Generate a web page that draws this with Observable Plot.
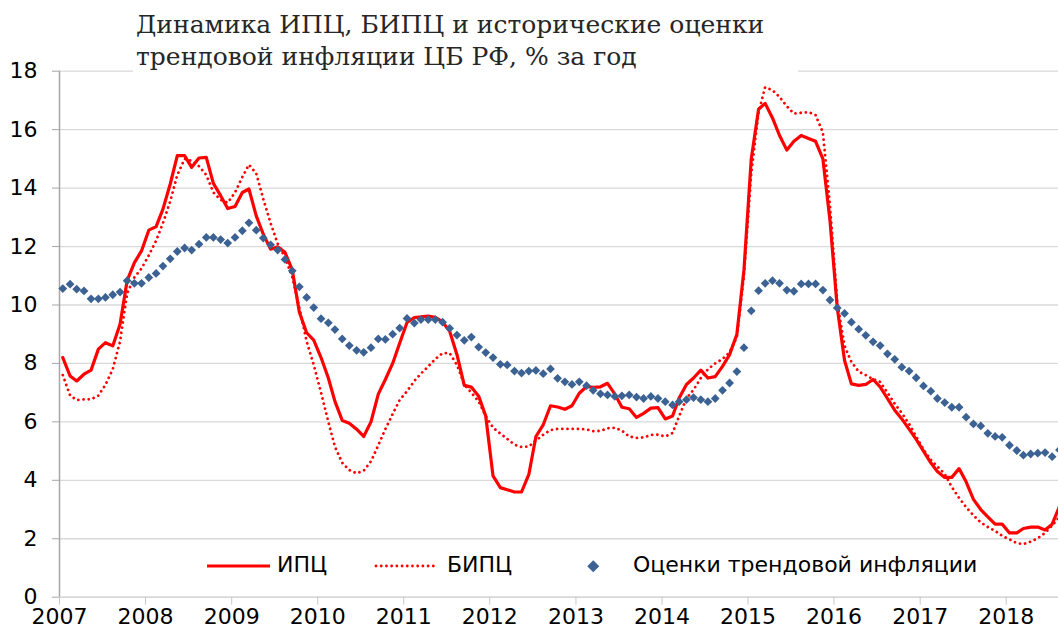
<!DOCTYPE html>
<html><head><meta charset="utf-8">
<script src="https://cdn.jsdelivr.net/npm/d3@7"></script>
<script src="https://cdn.jsdelivr.net/npm/@observablehq/plot@0.6"></script>
<style>
body{margin:0;background:#fff;}
#wrap{position:relative;width:1058px;height:634px;overflow:hidden;background:#fff;}
#title{position:absolute;left:133px;top:9px;width:662px;height:67px;background:#fff;font-family:"DejaVu Serif";font-size:25px;line-height:32px;color:#262626;padding-left:3px;white-space:nowrap;}
.lg{position:absolute;font-family:"DejaVu Sans";font-size:22px;color:#000;line-height:26px;white-space:nowrap;}
</style></head>
<body><div id="wrap"></div>
<script>
const titleLines = ["Динамика ИПЦ, БИПЦ и исторические оценки", "трендовой инфляции ЦБ РФ, % за год"];
const seriesNames = ["ИПЦ", "БИПЦ", "Оценки трендовой инфляции"];
const startYear = 2007;
const yearTicks = [2007,2008,2009,2010,2011,2012,2013,2014,2015,2016,2017,2018];
const yTicks = [0,2,4,6,8,10,12,14,16,18];

const cpi = [
 8.2,7.57,7.4,7.63,7.77,8.49,8.71,8.6,9.34,10.83,11.45,11.85,
 12.56,12.68,13.28,14.14,15.11,15.11,14.71,15.03,15.05,14.16,13.74,13.3,
 13.37,13.85,13.97,13.05,12.42,11.91,11.99,11.8,11.2,9.75,9.05,8.8,
 8.2,7.5,6.7,6.05,5.95,5.75,5.5,6.0,6.95,7.45,8.0,8.7,
 9.4,9.57,9.59,9.62,9.58,9.42,9.1,8.3,7.25,7.19,6.88,6.2,
 4.15,3.75,3.68,3.6,3.6,4.2,5.5,5.9,6.55,6.51,6.43,6.55,
 6.98,7.21,7.18,7.2,7.32,6.95,6.5,6.45,6.15,6.29,6.47,6.49,
 6.1,6.2,6.82,7.28,7.5,7.77,7.5,7.55,7.9,8.3,9.0,11.2,
 15.0,16.7,16.9,16.4,15.8,15.3,15.6,15.8,15.7,15.6,15.0,12.9,
 9.9,8.1,7.3,7.25,7.28,7.45,7.2,6.8,6.4,6.1,5.75,5.4,
 5.0,4.6,4.3,4.1,4.1,4.4,3.95,3.35,3.0,2.75,2.5,2.5,
 2.2,2.2,2.35,2.4,2.4,2.3,2.5,3.1
];
const bipc = [
 7.6,6.9,6.75,6.77,6.77,6.9,7.27,7.8,8.75,10.4,10.95,11.25,
 11.7,12.2,12.8,13.55,14.45,15.0,14.93,14.75,14.45,13.85,13.6,13.5,
 13.85,14.38,14.8,14.5,13.62,12.8,12.1,11.63,10.95,9.9,8.75,7.95,
 7.0,6.0,5.15,4.6,4.35,4.24,4.33,4.65,5.2,5.75,6.27,6.75,
 7.05,7.4,7.65,7.9,8.15,8.35,8.35,7.95,7.28,7.0,6.7,6.2,
 5.8,5.6,5.42,5.22,5.14,5.16,5.36,5.56,5.72,5.76,5.76,5.76,
 5.76,5.74,5.68,5.69,5.78,5.8,5.7,5.5,5.45,5.47,5.55,5.56,
 5.5,5.62,6.2,6.8,7.1,7.5,7.8,8.0,8.15,8.38,8.9,11.0,
 14.5,16.6,17.45,17.35,17.12,16.8,16.55,16.58,16.6,16.5,15.9,13.4,
 10.1,8.6,8.05,7.72,7.6,7.46,7.37,7.0,6.62,6.3,5.93,5.5,
 5.05,4.7,4.47,4.22,3.77,3.4,3.08,2.8,2.56,2.4,2.27,2.1,
 1.98,1.85,1.82,1.9,2.02,2.2,2.45,2.75
];
const trend = [
 10.56,10.71,10.54,10.48,10.21,10.21,10.26,10.35,10.44,10.83,10.74,10.74,
 10.94,11.08,11.33,11.58,11.83,11.95,11.88,12.08,12.31,12.31,12.24,12.12,
 12.31,12.54,12.81,12.56,12.29,12.06,11.88,11.56,11.17,10.62,10.26,9.91,
 9.53,9.39,9.16,8.84,8.61,8.45,8.38,8.54,8.84,8.82,9.0,9.21,
 9.54,9.38,9.5,9.5,9.5,9.41,9.2,8.97,8.79,8.9,8.56,8.37,
 8.2,7.97,7.95,7.74,7.67,7.74,7.76,7.65,7.81,7.49,7.37,7.28,
 7.37,7.24,7.08,6.96,6.92,6.87,6.89,6.92,6.85,6.8,6.87,6.8,
 6.69,6.58,6.69,6.76,6.83,6.76,6.69,6.8,7.08,7.33,7.72,8.54,
 9.8,10.49,10.74,10.83,10.74,10.51,10.47,10.72,10.72,10.72,10.51,10.17,
 9.9,9.71,9.41,9.17,8.96,8.74,8.61,8.33,8.14,7.87,7.74,7.51,
 7.23,7.05,6.8,6.66,6.5,6.5,6.16,5.93,5.86,5.61,5.5,5.47,
 5.2,5.02,4.86,4.9,4.93,4.95,4.81,5.04
];

const RED = "#ff0000", BLUE = "#3b6292";
const DOTS = "0.01,5.2";
const dates = cpi.map((_, i) => new Date(Date.UTC(startYear, i, 15)));
const rows = dates.map((d, i) => ({date: d, cpi: cpi[i], bipc: bipc[i], trend: trend[i]}));
const xStart = new Date(Date.UTC(2007, 0, 1));
const xEnd = new Date(Date.UTC(2018, 7, 11));
const tickDates = yearTicks.map(y => new Date(Date.UTC(y, 0, 1)));

const chart = Plot.plot({
  width: 1058, height: 634,
  marginLeft: 59, marginRight: 0, marginTop: 70.7, marginBottom: 37.3,
  x: {type: "utc", domain: [xStart, xEnd]},
  y: {domain: [0, 18]},
  style: {fontFamily: "DejaVu Sans", fontSize: "22px", background: "#fff", color: "#000"},
  marks: [
    Plot.gridY(yTicks.filter(v => v > 0), {stroke: "#d9d9d9", strokeOpacity: 1, strokeWidth: 1.3}),
    Plot.ruleY([0], {stroke: "#c8c8c8", strokeWidth: 1.3}),
    Plot.ruleX([xStart], {stroke: "#a6a6a6", strokeWidth: 1.5}),
    Plot.axisY(yTicks, {tickSize: 7, tickPadding: 15, stroke: "#a6a6a6", fill: "#000", fontSize: 22, label: null}),
    Plot.axisX(tickDates, {tickSize: 8, tickPadding: 3, stroke: "#c8c8c8", fill: "#000", fontSize: 22, label: null, tickFormat: d => String(d.getUTCFullYear())}),
    Plot.line(rows, {x: "date", y: "bipc", stroke: RED, strokeWidth: 2.8, strokeDasharray: DOTS, strokeLinecap: "round"}),
    Plot.line(rows, {x: "date", y: "cpi", stroke: RED, strokeWidth: 3.2}),
    Plot.dot(rows, {x: "date", y: "trend", symbol: "square", rotate: 45, r: 3.5, fill: BLUE, stroke: "none"})
  ]
});
const wrap = document.getElementById("wrap");
wrap.appendChild(chart);

const title = document.createElement("div");
title.id = "title";
title.innerHTML = titleLines.join("<br>");
wrap.appendChild(title);

function legendItem(left, swatchSvg, text, textLeft) {
  const sw = document.createElement("div");
  sw.style.cssText = `position:absolute;left:${left}px;top:556px;`;
  sw.innerHTML = swatchSvg;
  wrap.appendChild(sw);
  const t = document.createElement("div");
  t.className = "lg";
  t.style.left = textLeft + "px";
  t.style.top = "552px";
  t.textContent = text;
  wrap.appendChild(t);
}
legendItem(207, `<svg width="64" height="20"><line x1="0" y1="10" x2="63" y2="10" stroke="${RED}" stroke-width="3.2"/></svg>`, seriesNames[0], 277);
legendItem(374, `<svg width="64" height="20"><line x1="2" y1="10" x2="62" y2="10" stroke="${RED}" stroke-width="2.8" stroke-linecap="round" stroke-dasharray="${DOTS}"/></svg>`, seriesNames[1], 447);
legendItem(585, `<svg width="16" height="20"><rect x="4" y="6" width="8.5" height="8.5" fill="${BLUE}" transform="rotate(45 8.25 10.25)"/></svg>`, seriesNames[2], 633);
</script>
</body></html>
